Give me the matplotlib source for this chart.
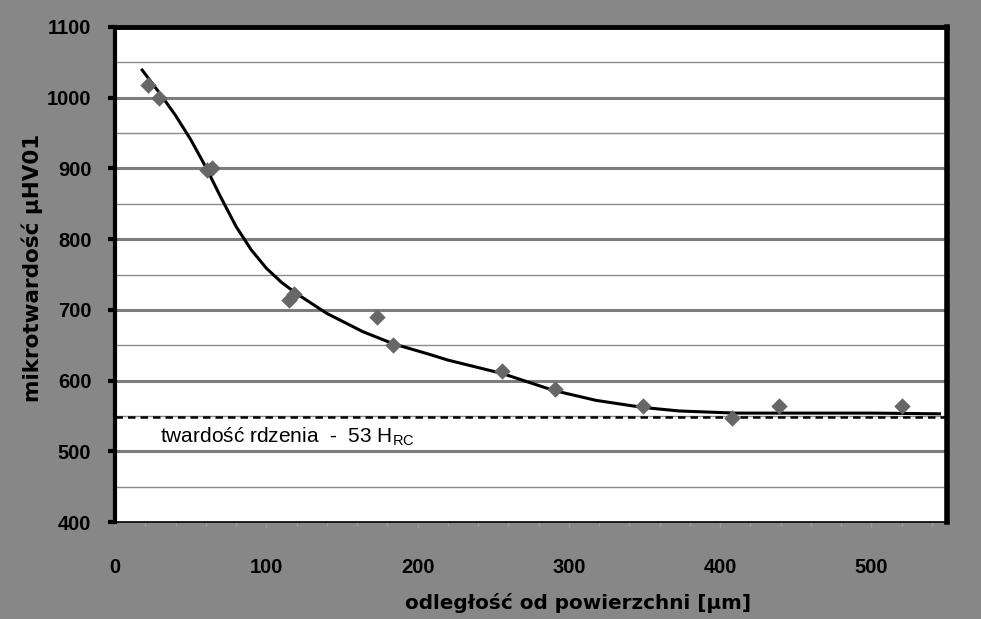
import matplotlib
matplotlib.use("Agg")
import matplotlib.pyplot as plt
from matplotlib.ticker import MultipleLocator

plt.rcParams['mathtext.fontset'] = 'custom'
plt.rcParams['mathtext.rm'] = 'Liberation Sans'

# measured points
dist = [22, 29, 61, 64, 115, 118, 173, 184, 256, 291, 349, 408, 439, 520]
hard = [1018, 1000, 898, 900, 714, 722, 690, 650, 613, 588, 564, 547, 564, 564]

# trend curve
curve_x = [18, 30, 40, 50, 60, 70, 80, 90, 100, 110, 120, 140, 164, 184, 208, 220, 256, 290, 318, 349, 373, 410, 450, 500, 545]
curve_y = [1039, 1005, 975, 941, 902, 859, 818, 785, 759, 739, 723, 695, 669, 652, 637, 629, 610, 586, 572, 562, 557, 554, 554, 554, 553]

core_hardness = 549
xticks = [0, 100, 200, 300, 400, 500]
yticks = [400, 500, 600, 700, 800, 900, 1000, 1100]

bg = '#878787'
fig = plt.figure(figsize=(9.81, 6.19), dpi=100, facecolor=bg)
ax = fig.add_axes([115/981, 1-522/619, (947-115)/981, (522-27)/619])
ax.set_facecolor('white')

ax.set_xlim(0, 550)
ax.set_ylim(400, 1100)

# gridlines
for v in range(450, 1100, 100):
    ax.axhline(v, color='#8a8a8a', lw=1.0, zorder=1)
for v in range(500, 1100, 100):
    ax.axhline(v, color='#7d7d7d', lw=2.2, zorder=1)

ax.axhline(core_hardness, color='black', lw=1.8, ls=(0, (3, 2)), zorder=2)
ax.plot(curve_x, curve_y, color='black', lw=2.2, zorder=3, solid_joinstyle='round')
ax.scatter(dist, hard, marker='D', s=70, color='#676767', zorder=4, linewidths=0)

ax.text(29.5, 521, 'twardość rdzenia  -  53 H$_{\\mathrm{RC}}$', fontsize=15,
        family='Liberation Sans', color='black', va='center', ha='left', zorder=5)

ax.set_xticks(xticks)
ax.set_yticks(yticks)
ax.xaxis.set_minor_locator(MultipleLocator(20))
ax.tick_params(axis='y', direction='out', length=5, width=3, color='black', pad=12,
               labelsize=14.5)
ax.tick_params(axis='x', which='major', direction='out', length=4, width=1, color='#9a9a9a',
               pad=22, labelsize=14.5)
ax.tick_params(axis='x', which='minor', direction='out', length=3, width=1, color='#9a9a9a')
for lab in ax.get_xticklabels() + ax.get_yticklabels():
    lab.set_fontweight('bold')
    lab.set_family('Liberation Sans')

ax.spines['left'].set_linewidth(3)
ax.spines['top'].set_linewidth(3.5)
ax.spines['right'].set_linewidth(4)
ax.spines['bottom'].set_linewidth(1.2)
for s in ax.spines.values():
    s.set_color('black')

fig.text(32/981, 1-268/619, 'mikrotwardość µHV01', rotation=90, fontsize=15.5,
         fontweight='bold', ha='center', va='center', family='DejaVu Sans')
fig.text(578/981, 1-603/619, 'odległość od powierzchni [µm]', fontsize=14.4,
         fontweight='bold', ha='center', va='center', family='DejaVu Sans')

fig.savefig('out.png', dpi=100, facecolor=bg)
